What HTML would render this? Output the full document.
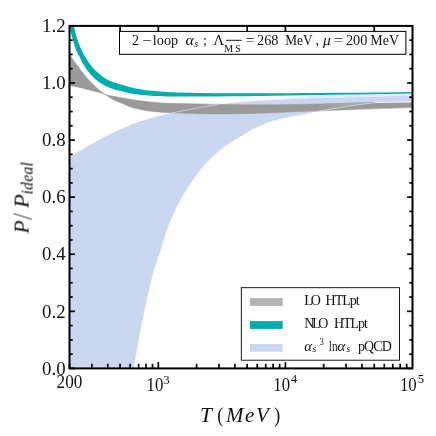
<!DOCTYPE html><html><head><meta charset="utf-8"><style>html,body{margin:0;padding:0;background:#fff;width:436px;height:436px;overflow:hidden}body{font-family:"Liberation Serif",serif;position:relative}</style></head><body>
<svg width="436" height="436" viewBox="0 0 436 436" style="position:absolute;left:0;top:0">
<defs><clipPath id="cp"><rect x="69.5" y="25.9" width="343.0" height="342.5"/></clipPath></defs>
<rect width="436" height="436" fill="#ffffff"/>
<g clip-path="url(#cp)">
<path d="M69.00 157.20 C70.83 156.15 76.50 152.92 80.00 150.90 C83.50 148.88 86.67 147.02 90.00 145.10 C93.33 143.18 96.67 141.22 100.00 139.40 C103.33 137.58 106.67 135.87 110.00 134.20 C113.33 132.53 116.67 130.90 120.00 129.40 C123.33 127.90 126.67 126.50 130.00 125.20 C133.33 123.90 136.67 122.73 140.00 121.60 C143.33 120.47 146.67 119.38 150.00 118.40 C153.33 117.42 156.67 116.53 160.00 115.70 C163.33 114.87 165.83 114.30 170.00 113.40 C174.17 112.50 180.00 111.28 185.00 110.30 C190.00 109.32 195.00 108.38 200.00 107.50 C205.00 106.62 210.00 105.73 215.00 105.00 C220.00 104.27 224.50 103.67 230.00 103.10 C235.50 102.53 241.88 102.07 248.00 101.60 C254.12 101.13 260.53 100.68 266.70 100.30 C272.87 99.92 277.78 99.63 285.00 99.30 C292.22 98.97 300.83 98.60 310.00 98.30 C319.17 98.00 328.33 97.80 340.00 97.50 C351.67 97.20 367.92 96.82 380.00 96.50 C392.08 96.18 407.08 95.75 412.50 95.60 L412.50 101.90 C408.75 101.97 396.25 102.17 390.00 102.30 C383.75 102.43 380.00 102.33 375.00 102.70 C370.00 103.07 364.50 103.90 360.00 104.50 C355.50 105.10 351.12 105.82 348.00 106.30 C344.88 106.78 345.82 106.67 341.30 107.40 C336.78 108.13 326.38 109.73 320.90 110.70 C315.42 111.67 311.88 112.50 308.40 113.20 C304.92 113.90 302.37 114.45 300.00 114.90 C297.63 115.35 296.50 115.47 294.20 115.90 C291.90 116.33 288.87 116.92 286.20 117.50 C283.53 118.08 280.88 118.68 278.20 119.40 C275.52 120.12 272.78 120.88 270.10 121.80 C267.42 122.72 264.77 123.78 262.10 124.90 C259.43 126.02 256.77 127.17 254.10 128.50 C251.43 129.83 248.45 131.53 246.10 132.90 C243.75 134.27 241.98 135.48 240.00 136.70 C238.02 137.92 236.50 138.72 234.20 140.20 C231.90 141.68 228.87 143.68 226.20 145.60 C223.53 147.52 220.88 149.48 218.20 151.70 C215.52 153.92 212.78 156.23 210.10 158.90 C207.42 161.57 204.77 164.48 202.10 167.70 C199.43 170.92 196.77 174.45 194.10 178.20 C191.43 181.95 188.38 186.57 186.10 190.20 C183.82 193.83 182.55 195.97 180.40 200.00 C178.25 204.03 175.48 209.32 173.20 214.40 C170.92 219.48 168.72 224.87 166.70 230.50 C164.68 236.13 162.70 243.12 161.10 248.20 C159.50 253.28 158.30 257.37 157.10 261.00 C155.90 264.63 155.18 265.45 153.90 270.00 C152.62 274.55 150.92 281.80 149.40 288.30 C147.88 294.80 146.33 301.73 144.80 309.00 C143.27 316.27 141.53 325.02 140.20 331.90 C138.87 338.78 137.87 344.22 136.80 350.30 C135.73 356.38 134.37 365.12 133.80 368.40 C133.23 371.68 133.47 369.73 133.40 370.00 L69 369 Z" fill="#c9d7f0"/>
<path d="M262.00 100.60 C264.17 100.37 270.33 99.68 275.00 99.20 C279.67 98.72 285.00 98.15 290.00 97.70 C295.00 97.25 300.00 96.85 305.00 96.50 C310.00 96.15 312.50 95.93 320.00 95.60 C327.50 95.27 340.00 94.78 350.00 94.50 C360.00 94.22 369.58 94.12 380.00 93.90 C390.42 93.68 407.08 93.32 412.50 93.20 L412.50 95.60 C407.08 95.75 392.08 96.18 380.00 96.50 C367.92 96.82 351.67 97.20 340.00 97.50 C328.33 97.80 319.17 98.00 310.00 98.30 C300.83 98.60 292.22 98.97 285.00 99.30 C277.78 99.63 270.53 100.08 266.70 100.30 C262.87 100.52 262.78 100.55 262.00 100.60 Z" fill="#e2e9f7"/>
<path d="M69.50 54.50 C70.45 55.88 73.45 60.35 75.20 62.80 C76.95 65.25 78.43 67.13 80.00 69.20 C81.57 71.27 83.05 73.32 84.60 75.20 C86.15 77.08 87.73 78.83 89.30 80.50 C90.87 82.17 92.45 83.72 94.00 85.20 C95.55 86.68 96.73 87.87 98.60 89.40 C100.47 90.93 103.23 92.97 105.20 94.40 C107.17 95.83 108.97 97.08 110.40 98.00 C111.83 98.92 112.20 99.15 113.80 99.90 C115.40 100.65 118.02 101.65 120.00 102.50 C121.98 103.35 123.78 104.20 125.70 105.00 C127.62 105.80 128.63 106.47 131.50 107.30 C134.37 108.13 139.08 109.27 142.90 110.00 C146.72 110.73 149.88 111.23 154.40 111.70 C158.92 112.17 162.40 112.47 170.00 112.80 C177.60 113.13 190.00 113.52 200.00 113.70 C210.00 113.88 220.00 113.98 230.00 113.90 C240.00 113.82 250.00 113.52 260.00 113.20 C270.00 112.88 280.00 112.40 290.00 112.00 C300.00 111.60 310.00 111.18 320.00 110.80 C330.00 110.42 340.00 110.07 350.00 109.70 C360.00 109.33 369.58 108.95 380.00 108.60 C390.42 108.25 407.08 107.77 412.50 107.60 L412.50 102.40 C407.08 102.42 390.42 102.40 380.00 102.50 C369.58 102.60 360.00 102.75 350.00 103.00 C340.00 103.25 330.00 103.73 320.00 104.00 C310.00 104.27 300.00 104.47 290.00 104.60 C280.00 104.73 270.00 104.80 260.00 104.80 C250.00 104.80 240.00 104.75 230.00 104.60 C220.00 104.45 210.00 104.12 200.00 103.90 C190.00 103.68 177.60 103.57 170.00 103.30 C162.40 103.03 158.92 102.67 154.40 102.30 C149.88 101.93 146.72 101.58 142.90 101.10 C139.08 100.62 134.32 99.83 131.50 99.40 C128.68 98.97 127.92 98.83 126.00 98.50 C124.08 98.17 121.65 97.68 120.00 97.40 C118.35 97.12 117.70 97.08 116.10 96.80 C114.50 96.52 112.22 96.10 110.40 95.70 C108.58 95.30 107.12 94.97 105.20 94.40 C103.28 93.83 100.85 92.88 98.90 92.30 C96.95 91.72 95.40 91.37 93.50 90.90 C91.60 90.43 89.42 89.97 87.50 89.50 C85.58 89.03 83.92 88.55 82.00 88.10 C80.08 87.65 78.08 87.25 76.00 86.80 C73.92 86.35 70.58 85.63 69.50 85.40 Z" fill="#9a9a9a" stroke="#9a9a9a" stroke-width="0.5" stroke-linejoin="round"/>
<linearGradient id="wg" gradientUnits="userSpaceOnUse" x1="316" y1="0" x2="350" y2="0"><stop offset="0" stop-color="#9a9a9a"/><stop offset="1" stop-color="#a9a9a9"/></linearGradient>
<path d="M314.00 104.10 C315.00 104.08 314.00 104.18 320.00 104.00 C326.00 103.82 340.83 103.23 350.00 103.00 C359.17 102.77 370.83 102.67 375.00 102.60 L375.00 102.70 C372.50 103.00 364.50 103.90 360.00 104.50 C355.50 105.10 351.12 105.82 348.00 106.30 C344.88 106.78 345.82 106.67 341.30 107.40 C336.78 108.13 325.45 110.00 320.90 110.70 C316.35 111.40 315.15 111.45 314.00 111.60 Z" fill="url(#wg)"/>
<path d="M172 112.95 L185 110.3 L200 107.5 L215 105.0 L218.5 104.5" stroke="#cfd5e0" stroke-width="0.8" fill="none"/>
<path d="M314.00 111.60 C315.15 111.45 316.35 111.40 320.90 110.70 C325.45 110.00 336.78 108.13 341.30 107.40 C345.82 106.67 344.88 106.78 348.00 106.30 C351.12 105.82 355.50 105.10 360.00 104.50 C364.50 103.90 372.50 103.00 375.00 102.70" stroke="#d9dde6" stroke-width="0.8" fill="none"/>
<path d="M375 102.6 L390 102.2 L412.3 101.9" stroke="#f6f8fc" stroke-width="0.9" fill="none"/>
<path d="M68.00 5.00 C68.58 7.00 70.48 13.28 71.50 17.00 C72.52 20.72 73.18 23.75 74.10 27.30 C75.02 30.85 75.93 34.93 77.00 38.30 C78.07 41.67 79.27 44.63 80.50 47.50 C81.73 50.37 83.03 53.03 84.40 55.50 C85.77 57.97 87.22 60.18 88.70 62.30 C90.18 64.42 91.67 66.38 93.30 68.20 C94.93 70.02 96.60 71.57 98.50 73.20 C100.40 74.83 102.72 76.70 104.70 78.00 C106.68 79.30 108.50 80.15 110.40 81.00 C112.30 81.85 114.18 82.47 116.10 83.10 C118.02 83.73 120.25 84.33 121.90 84.80 C123.55 85.27 124.40 85.47 126.00 85.90 C127.60 86.33 128.68 86.77 131.50 87.40 C134.32 88.03 139.08 89.08 142.90 89.70 C146.72 90.32 149.88 90.68 154.40 91.10 C158.92 91.52 162.40 91.90 170.00 92.20 C177.60 92.50 190.00 92.73 200.00 92.90 C210.00 93.07 220.00 93.13 230.00 93.20 C240.00 93.27 250.00 93.30 260.00 93.30 C270.00 93.30 280.00 93.25 290.00 93.20 C300.00 93.15 310.00 93.07 320.00 93.00 C330.00 92.93 340.00 92.88 350.00 92.80 C360.00 92.72 369.58 92.63 380.00 92.50 C390.42 92.37 407.08 92.08 412.50 92.00 L412.50 93.40 C407.08 93.50 390.42 93.82 380.00 94.00 C369.58 94.18 360.00 94.35 350.00 94.50 C340.00 94.65 330.00 94.75 320.00 94.90 C310.00 95.05 300.00 95.23 290.00 95.40 C280.00 95.57 270.00 95.75 260.00 95.90 C250.00 96.05 240.00 96.18 230.00 96.30 C220.00 96.42 210.00 96.58 200.00 96.60 C190.00 96.62 177.60 96.52 170.00 96.40 C162.40 96.28 158.92 96.12 154.40 95.90 C149.88 95.68 146.72 95.48 142.90 95.10 C139.08 94.72 134.32 94.08 131.50 93.60 C128.68 93.12 127.60 92.58 126.00 92.20 C124.40 91.82 123.55 91.68 121.90 91.30 C120.25 90.92 118.02 90.43 116.10 89.90 C114.18 89.37 112.30 88.82 110.40 88.10 C108.50 87.38 106.68 86.67 104.70 85.60 C102.72 84.53 100.40 83.10 98.50 81.70 C96.60 80.30 95.08 78.98 93.30 77.20 C91.52 75.42 89.48 73.20 87.80 71.00 C86.12 68.80 84.57 66.33 83.20 64.00 C81.83 61.67 80.55 58.83 79.60 57.00 C78.65 55.17 78.23 54.58 77.50 53.00 C76.77 51.42 76.05 49.95 75.20 47.50 C74.35 45.05 73.35 41.55 72.40 38.30 C71.45 35.05 69.98 29.72 69.50 28.00 Z" fill="#00adad"/>
</g>
<path d="M69.50 368.40 L74.90 368.40" stroke="#000" stroke-width="1.70" fill="none"/>
<path d="M412.50 368.40 L407.10 368.40" stroke="#000" stroke-width="1.70" fill="none"/>
<path d="M69.50 354.13 L72.70 354.13" stroke="#000" stroke-width="1.70" fill="none"/>
<path d="M412.50 354.13 L409.30 354.13" stroke="#000" stroke-width="1.70" fill="none"/>
<path d="M69.50 339.86 L72.70 339.86" stroke="#000" stroke-width="1.70" fill="none"/>
<path d="M412.50 339.86 L409.30 339.86" stroke="#000" stroke-width="1.70" fill="none"/>
<path d="M69.50 325.59 L72.70 325.59" stroke="#000" stroke-width="1.70" fill="none"/>
<path d="M412.50 325.59 L409.30 325.59" stroke="#000" stroke-width="1.70" fill="none"/>
<path d="M69.50 311.32 L74.90 311.32" stroke="#000" stroke-width="1.70" fill="none"/>
<path d="M412.50 311.32 L407.10 311.32" stroke="#000" stroke-width="1.70" fill="none"/>
<path d="M69.50 297.05 L72.70 297.05" stroke="#000" stroke-width="1.70" fill="none"/>
<path d="M412.50 297.05 L409.30 297.05" stroke="#000" stroke-width="1.70" fill="none"/>
<path d="M69.50 282.77 L72.70 282.77" stroke="#000" stroke-width="1.70" fill="none"/>
<path d="M412.50 282.77 L409.30 282.77" stroke="#000" stroke-width="1.70" fill="none"/>
<path d="M69.50 268.50 L72.70 268.50" stroke="#000" stroke-width="1.70" fill="none"/>
<path d="M412.50 268.50 L409.30 268.50" stroke="#000" stroke-width="1.70" fill="none"/>
<path d="M69.50 254.23 L74.90 254.23" stroke="#000" stroke-width="1.70" fill="none"/>
<path d="M412.50 254.23 L407.10 254.23" stroke="#000" stroke-width="1.70" fill="none"/>
<path d="M69.50 239.96 L72.70 239.96" stroke="#000" stroke-width="1.70" fill="none"/>
<path d="M412.50 239.96 L409.30 239.96" stroke="#000" stroke-width="1.70" fill="none"/>
<path d="M69.50 225.69 L72.70 225.69" stroke="#000" stroke-width="1.70" fill="none"/>
<path d="M412.50 225.69 L409.30 225.69" stroke="#000" stroke-width="1.70" fill="none"/>
<path d="M69.50 211.42 L72.70 211.42" stroke="#000" stroke-width="1.70" fill="none"/>
<path d="M412.50 211.42 L409.30 211.42" stroke="#000" stroke-width="1.70" fill="none"/>
<path d="M69.50 197.15 L74.90 197.15" stroke="#000" stroke-width="1.70" fill="none"/>
<path d="M412.50 197.15 L407.10 197.15" stroke="#000" stroke-width="1.70" fill="none"/>
<path d="M69.50 182.88 L72.70 182.88" stroke="#000" stroke-width="1.70" fill="none"/>
<path d="M412.50 182.88 L409.30 182.88" stroke="#000" stroke-width="1.70" fill="none"/>
<path d="M69.50 168.61 L72.70 168.61" stroke="#000" stroke-width="1.70" fill="none"/>
<path d="M412.50 168.61 L409.30 168.61" stroke="#000" stroke-width="1.70" fill="none"/>
<path d="M69.50 154.34 L72.70 154.34" stroke="#000" stroke-width="1.70" fill="none"/>
<path d="M412.50 154.34 L409.30 154.34" stroke="#000" stroke-width="1.70" fill="none"/>
<path d="M69.50 140.07 L74.90 140.07" stroke="#000" stroke-width="1.70" fill="none"/>
<path d="M412.50 140.07 L407.10 140.07" stroke="#000" stroke-width="1.70" fill="none"/>
<path d="M69.50 125.80 L72.70 125.80" stroke="#000" stroke-width="1.70" fill="none"/>
<path d="M412.50 125.80 L409.30 125.80" stroke="#000" stroke-width="1.70" fill="none"/>
<path d="M69.50 111.52 L72.70 111.52" stroke="#000" stroke-width="1.70" fill="none"/>
<path d="M412.50 111.52 L409.30 111.52" stroke="#000" stroke-width="1.70" fill="none"/>
<path d="M69.50 97.25 L72.70 97.25" stroke="#000" stroke-width="1.70" fill="none"/>
<path d="M412.50 97.25 L409.30 97.25" stroke="#000" stroke-width="1.70" fill="none"/>
<path d="M69.50 82.98 L74.90 82.98" stroke="#000" stroke-width="1.70" fill="none"/>
<path d="M412.50 82.98 L407.10 82.98" stroke="#000" stroke-width="1.70" fill="none"/>
<path d="M69.50 68.71 L72.70 68.71" stroke="#000" stroke-width="1.70" fill="none"/>
<path d="M412.50 68.71 L409.30 68.71" stroke="#000" stroke-width="1.70" fill="none"/>
<path d="M69.50 54.44 L72.70 54.44" stroke="#000" stroke-width="1.70" fill="none"/>
<path d="M412.50 54.44 L409.30 54.44" stroke="#000" stroke-width="1.70" fill="none"/>
<path d="M69.50 40.17 L72.70 40.17" stroke="#000" stroke-width="1.70" fill="none"/>
<path d="M412.50 40.17 L409.30 40.17" stroke="#000" stroke-width="1.70" fill="none"/>
<path d="M69.50 25.90 L74.90 25.90" stroke="#000" stroke-width="1.70" fill="none"/>
<path d="M412.50 25.90 L407.10 25.90" stroke="#000" stroke-width="1.70" fill="none"/>
<path d="M69.50 368.40 L69.50 363.80" stroke="#000" stroke-width="1.70" fill="none"/>
<path d="M91.88 368.40 L91.88 363.80" stroke="#000" stroke-width="1.70" fill="none"/>
<path d="M107.76 368.40 L107.76 363.80" stroke="#000" stroke-width="1.70" fill="none"/>
<path d="M120.07 368.40 L120.07 363.80" stroke="#000" stroke-width="1.70" fill="none"/>
<path d="M120.07 25.90 L120.07 31.50" stroke="#000" stroke-width="1.70" fill="none"/>
<path d="M130.14 368.40 L130.14 363.80" stroke="#000" stroke-width="1.70" fill="none"/>
<path d="M138.64 368.40 L138.64 363.80" stroke="#000" stroke-width="1.70" fill="none"/>
<path d="M146.01 368.40 L146.01 363.80" stroke="#000" stroke-width="1.70" fill="none"/>
<path d="M152.51 368.40 L152.51 363.80" stroke="#000" stroke-width="1.70" fill="none"/>
<path d="M158.33 368.40 L158.33 362.10" stroke="#000" stroke-width="1.70" fill="none"/>
<path d="M158.33 25.90 L158.33 31.50" stroke="#000" stroke-width="1.70" fill="none"/>
<path d="M196.59 368.40 L196.59 363.80" stroke="#000" stroke-width="1.70" fill="none"/>
<path d="M218.96 368.40 L218.96 363.80" stroke="#000" stroke-width="1.70" fill="none"/>
<path d="M234.84 368.40 L234.84 363.80" stroke="#000" stroke-width="1.70" fill="none"/>
<path d="M247.16 368.40 L247.16 363.80" stroke="#000" stroke-width="1.70" fill="none"/>
<path d="M247.16 25.90 L247.16 31.50" stroke="#000" stroke-width="1.70" fill="none"/>
<path d="M257.22 368.40 L257.22 363.80" stroke="#000" stroke-width="1.70" fill="none"/>
<path d="M265.73 368.40 L265.73 363.80" stroke="#000" stroke-width="1.70" fill="none"/>
<path d="M273.10 368.40 L273.10 363.80" stroke="#000" stroke-width="1.70" fill="none"/>
<path d="M279.60 368.40 L279.60 363.80" stroke="#000" stroke-width="1.70" fill="none"/>
<path d="M285.41 368.40 L285.41 362.10" stroke="#000" stroke-width="1.70" fill="none"/>
<path d="M285.41 25.90 L285.41 31.50" stroke="#000" stroke-width="1.70" fill="none"/>
<path d="M323.67 368.40 L323.67 363.80" stroke="#000" stroke-width="1.70" fill="none"/>
<path d="M346.05 368.40 L346.05 363.80" stroke="#000" stroke-width="1.70" fill="none"/>
<path d="M361.93 368.40 L361.93 363.80" stroke="#000" stroke-width="1.70" fill="none"/>
<path d="M374.24 368.40 L374.24 363.80" stroke="#000" stroke-width="1.70" fill="none"/>
<path d="M374.24 25.90 L374.24 31.50" stroke="#000" stroke-width="1.70" fill="none"/>
<path d="M384.31 368.40 L384.31 363.80" stroke="#000" stroke-width="1.70" fill="none"/>
<path d="M392.81 368.40 L392.81 363.80" stroke="#000" stroke-width="1.70" fill="none"/>
<path d="M400.18 368.40 L400.18 363.80" stroke="#000" stroke-width="1.70" fill="none"/>
<path d="M406.68 368.40 L406.68 363.80" stroke="#000" stroke-width="1.70" fill="none"/>
<rect x="69.50" y="25.90" width="343.00" height="342.50" fill="none" stroke="#000" stroke-width="2.0"/>
<rect x="119.5" y="31.4" width="286.4" height="22.9" fill="#fff" stroke="#000" stroke-width="1.0"/>
<rect x="241.3" y="287.7" width="158.2" height="72.5" fill="#fff" stroke="#000" stroke-width="0.9"/>
<rect x="249.9" y="298.1" width="32.8" height="7.8" fill="#b3b3b3"/>
<rect x="249.9" y="321.1" width="32.8" height="7.8" fill="#00adad"/>
<rect x="249.9" y="344.0" width="32.8" height="7.8" fill="#c9d7f0"/>
<g style="filter:grayscale(1)">
<text transform="translate(65.60,374.60) scale(1.020,1)" font-size="18.50" fill="#111" style="font-family:'Liberation Serif',serif;" text-anchor="end" >0.0</text>
<text transform="translate(65.60,317.52) scale(1.020,1)" font-size="18.50" fill="#111" style="font-family:'Liberation Serif',serif;" text-anchor="end" >0.2</text>
<text transform="translate(65.60,260.43) scale(1.020,1)" font-size="18.50" fill="#111" style="font-family:'Liberation Serif',serif;" text-anchor="end" >0.4</text>
<text transform="translate(65.60,203.35) scale(1.020,1)" font-size="18.50" fill="#111" style="font-family:'Liberation Serif',serif;" text-anchor="end" >0.6</text>
<text transform="translate(65.60,146.27) scale(1.020,1)" font-size="18.50" fill="#111" style="font-family:'Liberation Serif',serif;" text-anchor="end" >0.8</text>
<text transform="translate(65.60,89.18) scale(1.020,1)" font-size="18.50" fill="#111" style="font-family:'Liberation Serif',serif;" text-anchor="end" >1.0</text>
<text transform="translate(65.60,32.10) scale(1.020,1)" font-size="18.50" fill="#111" style="font-family:'Liberation Serif',serif;" text-anchor="end" >1.2</text>
<text transform="translate(69.50,387.90) scale(0.930,1)" font-size="18.50" fill="#111" style="font-family:'Liberation Serif',serif;" text-anchor="middle" >200</text>
<text transform="translate(146.53,390.80) scale(0.930,1)" font-size="18.00" fill="#111" style="font-family:'Liberation Serif',serif;" text-anchor="start" >10</text>
<text transform="translate(163.33,383.50) scale(1.000,1)" font-size="12.80" fill="#111" style="font-family:'Liberation Serif',serif;" text-anchor="start" >3</text>
<text transform="translate(273.31,390.80) scale(0.930,1)" font-size="18.00" fill="#111" style="font-family:'Liberation Serif',serif;" text-anchor="start" >10</text>
<text transform="translate(290.81,383.20) scale(1.000,1)" font-size="12.80" fill="#111" style="font-family:'Liberation Serif',serif;" text-anchor="start" >4</text>
<text transform="translate(400.00,390.80) scale(0.930,1)" font-size="18.00" fill="#111" style="font-family:'Liberation Serif',serif;" text-anchor="start" >10</text>
<text transform="translate(417.70,383.30) scale(1.000,1)" font-size="12.80" fill="#111" style="font-family:'Liberation Serif',serif;" text-anchor="start" >5</text>
<text transform="translate(200.00,422.30) scale(1.030,1)" font-size="21.00" fill="#111" style="font-family:'Liberation Serif',serif;font-style:italic;" text-anchor="start" >T</text>
<text transform="translate(217.20,422.30) scale(0.900,1)" font-size="20.00" fill="#111" style="font-family:'Liberation Serif',serif;" text-anchor="start" >(</text>
<text transform="translate(226.00,422.30) scale(1.000,1)" font-size="21.00" fill="#111" style="font-family:'Liberation Serif',serif;font-style:italic;letter-spacing:1.60px;" text-anchor="start" >MeV</text>
<text transform="translate(274.20,422.30) scale(0.900,1)" font-size="20.00" fill="#111" style="font-family:'Liberation Serif',serif;" text-anchor="start" >)</text>
<g transform="translate(28.6,233.5) rotate(-90)">
<text transform="translate(0.00,0.00) scale(1.000,1)" font-size="21.60" fill="#111" style="font-family:'Liberation Serif',serif;font-style:italic;" text-anchor="start" >P</text>
<text transform="translate(14.60,3.20) scale(0.620,1)" font-size="27.00" fill="#111" style="font-family:'Liberation Serif',serif;font-style:italic;" text-anchor="start" >/</text>
<text transform="translate(25.60,0.00) scale(1.050,1)" font-size="21.60" fill="#111" style="font-family:'Liberation Serif',serif;font-style:italic;" text-anchor="start" >P</text>
<text transform="translate(38.90,3.70) scale(1.000,1)" font-size="15.70" fill="#111" style="font-family:'Liberation Serif',serif;font-style:italic;letter-spacing:0.30px;" text-anchor="start" >ideal</text>
</g>
<text transform="translate(132.00,44.60) scale(1.000,1)" font-size="14.00" fill="#111" style="font-family:'Liberation Serif',serif;" text-anchor="start" >2</text>
<text transform="translate(142.60,44.60) scale(1.180,1)" font-size="14.00" fill="#111" style="font-family:'Liberation Serif',serif;" text-anchor="start" >−</text>
<text transform="translate(152.80,44.60) scale(1.020,1)" font-size="14.00" fill="#111" style="font-family:'Liberation Serif',serif;" text-anchor="start" >loop</text>
<text transform="translate(185.40,44.60) scale(1.140,1)" font-size="14.00" fill="#111" style="font-family:'Liberation Serif',serif;font-style:italic;" text-anchor="start" >α</text>
<text transform="translate(194.30,47.00) scale(1.000,1)" font-size="10.00" fill="#111" style="font-family:'Liberation Serif',serif;font-style:italic;" text-anchor="start" >s</text>
<text transform="translate(203.00,44.60) scale(1.000,1)" font-size="14.00" fill="#111" style="font-family:'Liberation Serif',serif;" text-anchor="start" >;</text>
<text transform="translate(213.30,44.60) scale(1.080,1)" font-size="14.00" fill="#111" style="font-family:'Liberation Serif',serif;" text-anchor="start" >Λ</text>
<text transform="translate(224.30,51.90) scale(1.000,1)" font-size="10.00" fill="#111" style="font-family:'Liberation Serif',serif;letter-spacing:2.00px;" text-anchor="start" >MS</text>
<path d="M226.1 40.3 L241.9 40.3" stroke="#000" stroke-width="0.9"/>
<text transform="translate(245.40,44.60) scale(1.160,1)" font-size="14.00" fill="#111" style="font-family:'Liberation Serif',serif;" text-anchor="start" >=</text>
<text transform="translate(257.10,44.60) scale(1.020,1)" font-size="14.00" fill="#111" style="font-family:'Liberation Serif',serif;" text-anchor="start" >268</text>
<text transform="translate(285.20,44.60) scale(0.950,1)" font-size="14.00" fill="#111" style="font-family:'Liberation Serif',serif;" text-anchor="start" >MeV</text>
<text transform="translate(315.40,44.60) scale(1.000,1)" font-size="14.00" fill="#111" style="font-family:'Liberation Serif',serif;" text-anchor="start" >,</text>
<text transform="translate(323.00,44.60) scale(1.100,1)" font-size="14.00" fill="#111" style="font-family:'Liberation Serif',serif;font-style:italic;" text-anchor="start" >μ</text>
<text transform="translate(333.70,44.60) scale(1.200,1)" font-size="14.00" fill="#111" style="font-family:'Liberation Serif',serif;" text-anchor="start" >=</text>
<text transform="translate(345.90,44.60) scale(1.020,1)" font-size="14.00" fill="#111" style="font-family:'Liberation Serif',serif;" text-anchor="start" >200</text>
<text transform="translate(370.30,44.60) scale(1.000,1)" font-size="14.00" fill="#111" style="font-family:'Liberation Serif',serif;" text-anchor="start" >MeV</text>
<text transform="translate(304.30,304.90) scale(1.000,1)" font-size="14.00" fill="#111" style="font-family:'Liberation Serif',serif;letter-spacing:-2.00px;" text-anchor="start" >LO</text>
<text transform="translate(325.60,304.90) scale(1.000,1)" font-size="14.00" fill="#111" style="font-family:'Liberation Serif',serif;letter-spacing:-1.00px;" text-anchor="start" >HTLpt</text>
<text transform="translate(304.30,327.80) scale(1.000,1)" font-size="14.00" fill="#111" style="font-family:'Liberation Serif',serif;letter-spacing:-2.40px;" text-anchor="start" >NLO</text>
<text transform="translate(333.90,327.80) scale(1.000,1)" font-size="14.00" fill="#111" style="font-family:'Liberation Serif',serif;letter-spacing:-1.00px;" text-anchor="start" >HTLpt</text>
<text transform="translate(304.20,350.60) scale(1.050,1)" font-size="14.00" fill="#111" style="font-family:'Liberation Serif',serif;font-style:italic;" text-anchor="start" >α</text>
<text transform="translate(312.60,352.30) scale(1.000,1)" font-size="9.50" fill="#111" style="font-family:'Liberation Serif',serif;font-style:italic;" text-anchor="start" >s</text>
<text transform="translate(319.60,345.30) scale(0.900,1)" font-size="9.50" fill="#111" style="font-family:'Liberation Serif',serif;" text-anchor="start" >3</text>
<text transform="translate(328.80,350.60) scale(0.800,1)" font-size="14.00" fill="#111" style="font-family:'Liberation Serif',serif;" text-anchor="start" >ln</text>
<text transform="translate(337.20,350.60) scale(1.100,1)" font-size="14.00" fill="#111" style="font-family:'Liberation Serif',serif;font-style:italic;" text-anchor="start" >α</text>
<text transform="translate(346.40,352.30) scale(1.000,1)" font-size="9.50" fill="#111" style="font-family:'Liberation Serif',serif;font-style:italic;" text-anchor="start" >s</text>
<text transform="translate(358.00,350.60) scale(1.000,1)" font-size="14.00" fill="#111" style="font-family:'Liberation Serif',serif;letter-spacing:-0.90px;" text-anchor="start" >pQCD</text>
</g>
</svg>
</body></html>
